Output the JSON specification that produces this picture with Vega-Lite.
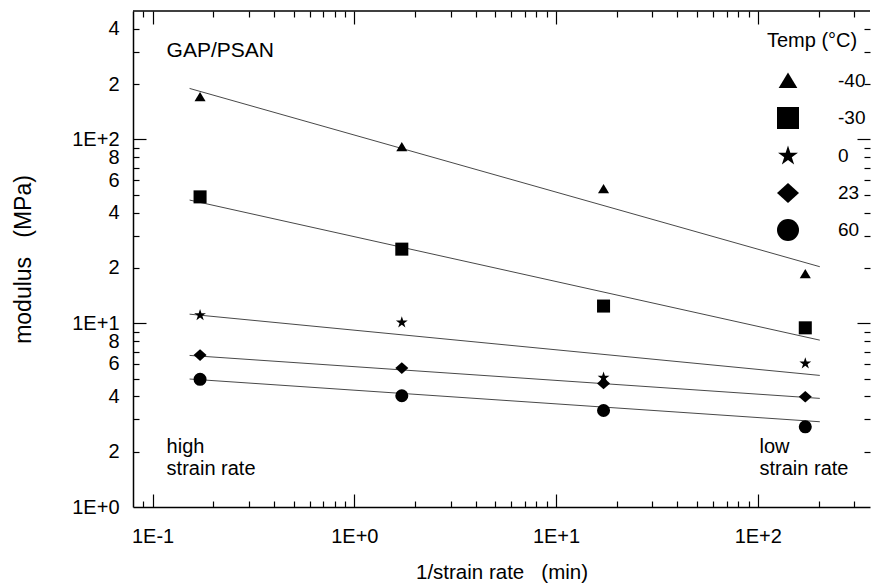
{
  "$schema": "https://vega.github.io/schema/vega-lite/v6.json",
  "width": 737,
  "height": 496,
  "autosize": {"type": "none"},
  "padding": {"left": 133, "top": 11, "right": 5, "bottom": 77},
  "background": "white",
  "config": {"view": {"stroke": null}, "font": "Liberation Sans"},
  "datasets": {
    "points": [
      {"Temp": "-40", "rate": 0.172, "modulus": 170},
      {"Temp": "-40", "rate": 1.72, "modulus": 90.8},
      {"Temp": "-40", "rate": 17.2, "modulus": 53.7},
      {"Temp": "-40", "rate": 172, "modulus": 18.5},
      {"Temp": "-30", "rate": 0.172, "modulus": 48.7},
      {"Temp": "-30", "rate": 1.72, "modulus": 25.3},
      {"Temp": "-30", "rate": 17.2, "modulus": 12.4},
      {"Temp": "-30", "rate": 172, "modulus": 9.44},
      {"Temp": "0", "rate": 0.172, "modulus": 11.07},
      {"Temp": "0", "rate": 1.72, "modulus": 10.1},
      {"Temp": "0", "rate": 17.2, "modulus": 5.05},
      {"Temp": "0", "rate": 172, "modulus": 6.04},
      {"Temp": "23", "rate": 0.172, "modulus": 6.71},
      {"Temp": "23", "rate": 1.72, "modulus": 5.7},
      {"Temp": "23", "rate": 17.2, "modulus": 4.7},
      {"Temp": "23", "rate": 172, "modulus": 3.98},
      {"Temp": "60", "rate": 0.172, "modulus": 4.95},
      {"Temp": "60", "rate": 1.72, "modulus": 4.03},
      {"Temp": "60", "rate": 17.2, "modulus": 3.35},
      {"Temp": "60", "rate": 172, "modulus": 2.73}
    ],
    "fits": [
      {"Temp": "-40", "rate": 0.1526, "modulus": 189.5},
      {"Temp": "-40", "rate": 203, "modulus": 20.3},
      {"Temp": "-30", "rate": 0.1526, "modulus": 46.8},
      {"Temp": "-30", "rate": 203, "modulus": 8.09},
      {"Temp": "0", "rate": 0.1526, "modulus": 11.2},
      {"Temp": "0", "rate": 203, "modulus": 5.2},
      {"Temp": "23", "rate": 0.1526, "modulus": 6.68},
      {"Temp": "23", "rate": 203, "modulus": 3.9},
      {"Temp": "60", "rate": 0.1526, "modulus": 4.97},
      {"Temp": "60", "rate": 203, "modulus": 2.91}
    ],
    "title": [
      {"label": "GAP/PSAN", "rate": 0.1174, "modulus": 280}
    ],
    "words": [
      {"label": "high", "rate": 0.1174, "modulus": 1.965},
      {"label": "low", "rate": 102, "modulus": 1.965}
    ],
    "rates": [
      {"label": "strain rate", "rate": 0.1174, "modulus": 1.491},
      {"label": "strain rate", "rate": 102, "modulus": 1.491}
    ]
  },
  "layer": [
    {
      "data": {"name": "fits"},
      "mark": {"type": "line", "color": "#333333", "strokeWidth": 0.9},
      "encoding": {
        "x": {
          "field": "rate", "type": "quantitative",
          "scale": {"type": "log", "domain": [0.08, 360], "nice": false, "zero": false},
          "axis": {
            "orient": "top", "title": null, "labels": false, "domain": false, "grid": false, "offset": -6,
            "values": [0.09, 0.2, 0.3, 0.4, 0.5, 0.6, 0.7, 0.8, 0.9, 2, 3, 4, 5, 6, 7, 8, 9, 20, 30, 40, 50, 60, 70, 80, 90, 200, 300],
            "tickSize": 6, "tickColor": "black", "tickWidth": 1.2
          }
        },
        "y": {
          "field": "modulus", "type": "quantitative",
          "scale": {"type": "log", "domain": [1, 500], "nice": false, "zero": false},
          "axis": {
            "orient": "right", "title": null, "labels": false, "domain": false, "grid": false, "offset": -6,
            "values": [2, 3, 4, 5, 6, 7, 8, 9, 20, 30, 40, 50, 60, 70, 80, 90, 200, 300, 400],
            "tickSize": 6, "tickColor": "black", "tickWidth": 1.2
          }
        },
        "detail": {"field": "Temp", "type": "nominal"}
      }
    },
    {
      "data": {"name": "points"},
      "mark": {"type": "point", "filled": true, "color": "black", "size": 170, "opacity": 1, "strokeWidth": 0},
      "encoding": {
        "x": {
          "field": "rate", "type": "quantitative",
          "axis": {
            "orient": "bottom", "title": "1/strain rate \u00a0 (min)", "grid": false, "ticks": false, "tickSize": 0,
            "values": [0.1, 1, 10, 100],
            "labelExpr": "datum.value==0.1?'1E-1':datum.value==1?'1E+0':datum.value==10?'1E+1':datum.value==100?'1E+2':''",
            "labelPadding": 19,
            "domainColor": "black", "domainWidth": 1.5,
            "labelFont": "Liberation Sans", "labelFontSize": 20, "labelColor": "black",
            "labelOverlap": false, "labelFlush": false,
            "titleFont": "Liberation Sans", "titleFontSize": 20.5, "titleFontWeight": "normal", "titleColor": "black", "titlePadding": 16
          }
        },
        "y": {
          "field": "modulus", "type": "quantitative",
          "axis": {
            "orient": "left", "title": "modulus \u00a0 (MPa)", "grid": false, "ticks": false, "tickSize": 0,
            "values": [1, 2, 4, 6, 8, 10, 20, 40, 60, 80, 100, 200, 400],
            "labelExpr": "datum.value==1?'1E+0':datum.value==10?'1E+1':datum.value==100?'1E+2':(datum.value==2||datum.value==20||datum.value==200)?'2':(datum.value==4||datum.value==40||datum.value==400)?'4':(datum.value==6||datum.value==60)?'6':(datum.value==8||datum.value==80)?'8':''",
            "labelPadding": 14,
            "domainColor": "black", "domainWidth": 1.5,
            "labelFont": "Liberation Sans", "labelFontSize": 20, "labelColor": "black",
            "labelOverlap": false, "labelFlush": false,
            "titleFont": "Liberation Sans", "titleFontSize": 23, "titleFontWeight": "normal", "titleColor": "black", "titlePadding": 36
          }
        },
        "shape": {
          "field": "Temp", "type": "nominal",
          "scale": {
            "domain": ["-40", "-30", "0", "23", "60"],
            "range": [
              "M0,-0.78L0.85,0.63L-0.85,0.63Z",
              "square",
              "M0,-0.95L0.213,-0.294L0.904,-0.294L0.345,0.112L0.558,0.769L0,0.363L-0.558,0.769L-0.345,0.112L-0.904,-0.294L-0.213,-0.294Z",
              "M0,-0.9L1,0L0,0.9L-1,0Z",
              "circle"
            ]
          },
          "legend": {
            "orient": "none", "legendX": 634, "legendY": 20, "padding": 0,
            "title": "Temp (°C)", "titleFont": "Liberation Sans", "titleFontSize": 20, "titleFontWeight": "normal", "titleColor": "black", "titlePadding": 19,
            "labelFont": "Liberation Sans", "labelFontSize": 19, "labelColor": "black",
            "symbolSize": 484, "symbolFillColor": "black", "symbolStrokeColor": "black", "symbolStrokeWidth": 0, "symbolOpacity": 1,
            "symbolOffset": 10, "labelOffset": 39, "rowPadding": 16
          }
        }
      }
    },
    {
      "data": {"name": "title"},
      "mark": {"type": "text", "align": "left", "baseline": "alphabetic", "font": "Liberation Sans", "fontSize": 21, "color": "black"},
      "encoding": {
        "x": {
          "field": "rate", "type": "quantitative",
          "axis": {
            "orient": "bottom", "title": null, "labels": false, "domain": false, "grid": false, "offset": -6,
            "values": [0.09, 0.2, 0.3, 0.4, 0.5, 0.6, 0.7, 0.8, 0.9, 2, 3, 4, 5, 6, 7, 8, 9, 20, 30, 40, 50, 60, 70, 80, 90, 200, 300],
            "tickSize": 6, "tickColor": "black", "tickWidth": 1.2
          }
        },
        "y": {
          "field": "modulus", "type": "quantitative",
          "axis": {
            "orient": "left", "title": null, "labels": false, "domain": false, "grid": false, "offset": -6,
            "values": [2, 3, 4, 5, 6, 7, 8, 9, 20, 30, 40, 50, 60, 70, 80, 90, 200, 300, 400],
            "tickSize": 6, "tickColor": "black", "tickWidth": 1.2
          }
        },
        "text": {"field": "label", "type": "nominal"}
      }
    },
    {
      "data": {"name": "words"},
      "mark": {"type": "text", "align": "left", "baseline": "alphabetic", "font": "Liberation Sans", "fontSize": 20, "color": "black"},
      "encoding": {
        "x": {
          "field": "rate", "type": "quantitative",
          "axis": {
            "orient": "bottom", "title": null, "labels": false, "domain": false, "grid": false, "offset": -13,
            "values": [0.1, 1, 10, 100], "tickSize": 13, "tickColor": "black", "tickWidth": 1.2
          }
        },
        "y": {
          "field": "modulus", "type": "quantitative",
          "axis": {
            "orient": "left", "title": null, "labels": false, "domain": false, "grid": false, "offset": -13,
            "values": [10, 100], "tickSize": 13, "tickColor": "black", "tickWidth": 1.2
          }
        },
        "text": {"field": "label", "type": "nominal"}
      }
    },
    {
      "data": {"name": "rates"},
      "mark": {"type": "text", "align": "left", "baseline": "alphabetic", "font": "Liberation Sans", "fontSize": 20, "color": "black"},
      "encoding": {
        "x": {
          "field": "rate", "type": "quantitative",
          "axis": {
            "orient": "top", "title": null, "labels": false, "domain": false, "grid": false, "offset": -13,
            "values": [0.1, 1, 10, 100], "tickSize": 13, "tickColor": "black", "tickWidth": 1.2
          }
        },
        "y": {
          "field": "modulus", "type": "quantitative",
          "axis": {
            "orient": "right", "title": null, "labels": false, "domain": false, "grid": false, "offset": -13,
            "values": [10, 100], "tickSize": 13, "tickColor": "black", "tickWidth": 1.2
          }
        },
        "text": {"field": "label", "type": "nominal"}
      }
    },
    {
      "data": {"values": [{"modulus": 500}]},
      "mark": {"type": "rule", "color": "black", "strokeWidth": 1.5},
      "encoding": {
        "y": {"field": "modulus", "type": "quantitative", "axis": null}
      }
    }
  ],
  "resolve": {"axis": {"x": "independent", "y": "independent"}}
}
